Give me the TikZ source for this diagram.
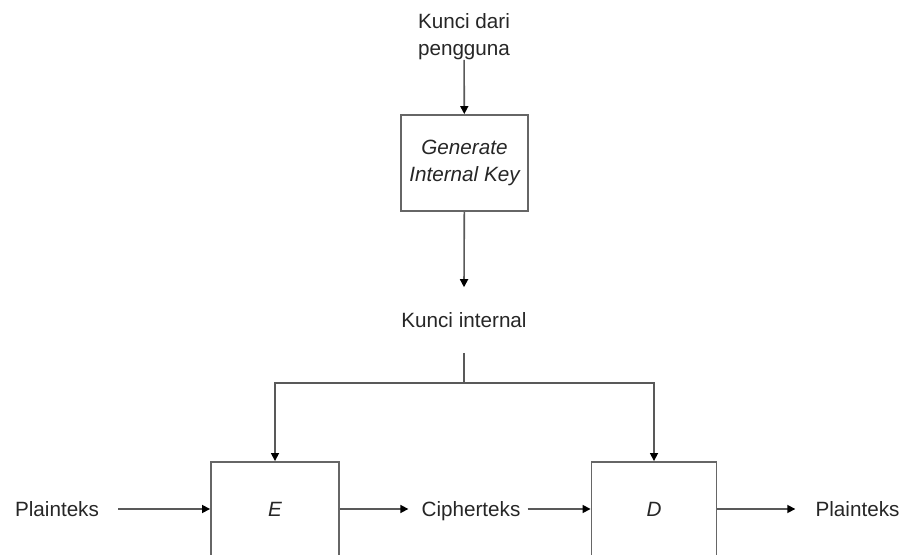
\documentclass[tikz,border=0pt]{standalone}
\usepackage{fontspec}
\setmainfont{Liberation Sans}
\usetikzlibrary{arrows.meta,positioning}

\tikzset{
  blok/.style={draw=black!60, line width=1.4pt, inner sep=0pt},
  teks/.style={inner sep=0pt, text height=12pt, text depth=1pt, text=black!85},
  panah/.style={draw=black!65, line width=1.2pt, -{Triangle[length=6pt,width=6pt,color=black]}},
  garis/.style={draw=black!65, line width=1.2pt}
}

\begin{document}
\begin{tikzpicture}[x=0.75pt, y=-0.75pt, font=\fontsize{15.5}{20}\selectfont]
	\useasboundingbox (0,0) rectangle (903,555);
	\clip (0,0) rectangle (903,555);
	% blok utama
	\node[inner sep=0pt, text=black!85, align=center, anchor=south] (usr) at (464,60) {Kunci dari\\pengguna};
	\node[blok, minimum width=95.25pt, minimum height=72pt, align=center, text=black!85, font=\fontsize{15.5}{20}\selectfont\itshape] (gen) at (464.5,163) {Generate\\Internal Key};
	\node[teks, minimum height=48.75pt] (kint) at (464,320) {Kunci internal};
	\node[blok, minimum width=96pt, minimum height=120pt] (enc) at (275,542) {};
	\node[blok, minimum width=93.75pt, minimum height=120pt] (dec) at (654,542) {};
	\node[teks] at (275,509) {\itshape E};
	\node[teks] at (654,509) {\itshape D};
	\node[teks] (pin) at (57,509) {Plainteks};
	\node[teks] (ciph) at (471,509) {Cipherteks};
	\node[teks] (pout) at (857.5,509) {Plainteks};
	\coordinate (jn) at (464,383);
	% penghubung
	\draw[panah] (usr) -- (gen);
	\draw[panah] (gen) -- (kint.north);
	\draw[garis] (kint.south) -- (jn);
	\draw[panah] (jn) -| (enc.north);
	\draw[panah] (jn) -| (dec.north);
	\draw[panah, shorten <=14.25pt] (pin.east) -- (pin.east -| enc.west);
	\draw[panah, shorten >=9.75pt] (enc.east |- ciph) -- (ciph.west);
	\draw[panah, shorten <=5.25pt] (ciph.east) -- (ciph.east -| dec.west);
	\draw[panah, shorten >=15pt] (dec.east |- pout) -- (pout.west);
\end{tikzpicture}
\end{document}
